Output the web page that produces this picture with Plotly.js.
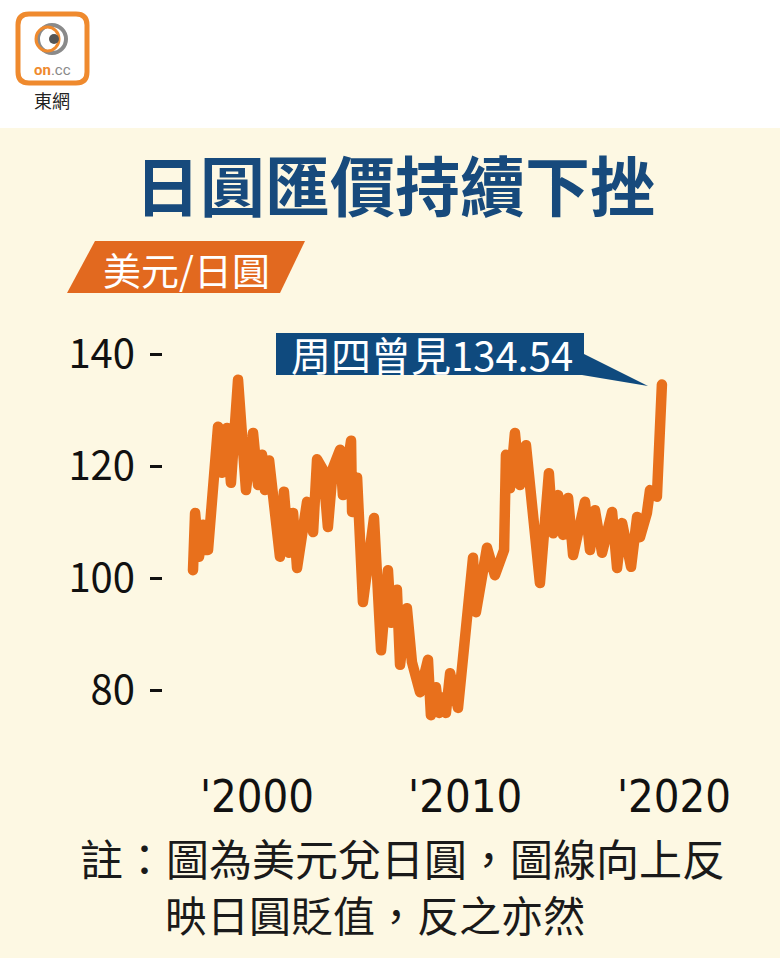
<!DOCTYPE html>
<html>
<head>
<meta charset="utf-8">
<script src="https://cdn.plot.ly/plotly-3.0.1.min.js"></script>
<style>
html,body{margin:0;padding:0;background:#fdf8e3;}
#chart{width:780px;height:958px;}
path.js-line{stroke-linejoin:round !important;stroke-linecap:round !important;}
</style>
</head>
<body>
<div id="chart"></div>
<script>
// ---- data (USD/JPY) ----
const years = [2000.00,2000.10,2000.29,2000.48,2000.58,2000.72,2001.20,2001.39,2001.63,2001.82,
  2002.16,2002.54,2002.88,2003.12,2003.31,2003.45,2003.65,2004.03,2004.17,2004.36,
  2004.60,2004.80,2004.99,2005.47,2005.76,2005.95,2006.24,2006.47,2006.71,2007.05,
  2007.19,2007.58,2007.63,2007.87,2008.15,2008.68,2009.02,2009.35,2009.50,2009.78,
  2009.93,2010.26,2010.50,2010.89,2011.27,2011.41,2011.65,2011.80,2011.99,2012.13,
  2012.33,2012.71,2013.43,2013.57,2014.10,2014.48,2014.92,2015.01,2015.20,2015.44,
  2015.68,2015.97,2016.64,2017.07,2017.27,2017.51,2017.75,2017.99,2018.23,2018.80,
  2019.04,2019.28,2019.62,2020.10,2020.34,2020.58,2021.01,2021.30,2021.44,2021.77,
  2021.92,2022.25,2022.49];
const usdjpy = [101.4,111.6,103.8,109.5,105.0,105.0,127.0,118.8,126.8,117.0,
  135.4,115.7,125.9,116.6,122.0,115.7,121.0,105.0,103.8,115.4,
  104.5,111.6,101.8,113.6,108.2,121.2,119.3,109.1,119.6,122.9,
  114.8,124.5,111.8,117.9,95.7,110.7,87.1,101.4,92.0,97.9,
  84.5,94.6,85.0,79.6,85.4,75.5,80.5,75.9,78.7,75.9,
  83.0,76.8,103.6,93.9,105.4,100.5,105.0,122.0,116.0,125.9,
  116.6,123.7,99.1,118.7,108.0,114.8,107.7,114.3,104.1,113.6,
  105.0,112.1,104.5,111.8,101.8,109.8,102.0,110.9,107.3,111.6,
  115.7,114.5,134.54];
const yTickVals = [80,100,120,140];
const yTickText = ["80","100","120","140"];
const xTickVals = [2003.07,2013.05,2023.07];
const xTickText = ["'2000","'2010","'2020"];
const titleText = "日圓匯價持續下挫";
const unitText = "美元/日圓";
const calloutText = "周四曾見134.54";
const noteLine1 = "註：圖為美元兌日圓，圖線向上反";
const noteLine2 = "映日圓貶值，反之亦然";

// ---- pixel -> paper helpers (plot area: x 163..700, y 330..730) ----
const L = 163, R = 700, T = 330, B = 730;
const P = px => (px - L) / (R - L);
const Q = py => (B - py) / (B - T);
function rectPx(x0, y0, x1, y1) { return {x0: P(x0), x1: P(x1), y0: Q(y1), y1: Q(y0)}; }
function pathPx(str) {
  const toks = str.trim().split(/\s+/);
  let out = [], nums = [];
  toks.forEach(t => {
    if (/^[A-Za-z]$/.test(t)) { out.push(t); }
    else { nums.push(parseFloat(t)); if (nums.length === 2) { out.push(P(nums[0]).toFixed(5) + ',' + Q(nums[1]).toFixed(5)); nums = []; } }
  });
  return out.join(' ');
}

const CJK = '"Noto Sans CJK TC", "Noto Sans CJK SC", sans-serif';
const NAVY = '#174a7c';
const ORANGE = '#e8701c';

const shapes = [
  Object.assign({type:'rect', xref:'paper', yref:'paper', fillcolor:'#ffffff', line:{width:0}, layer:'below'}, rectPx(-5,-5,790,128)),
  {type:'path', xref:'paper', yref:'paper', fillcolor:'#ffffff', line:{color:'#ef8a2e', width:5},
    path: pathPx('M 29 14 L 76 14 Q 87 14 87 25 L 87 72 Q 87 83 76 83 L 29 83 Q 18 83 18 72 L 18 25 Q 18 14 29 14 Z')},
  Object.assign({type:'circle', xref:'paper', yref:'paper', line:{color:'#8a8a8a', width:4}}, rectPx(38,25,66,53)),
  Object.assign({type:'circle', xref:'paper', yref:'paper', line:{color:'#ef8a2e', width:3}}, rectPx(36,27,59,51)),
  Object.assign({type:'circle', xref:'paper', yref:'paper', fillcolor:'#555', line:{width:0}}, rectPx(49,34,59,44)),
  {type:'path', xref:'paper', yref:'paper', fillcolor:'#e2691f', line:{width:0},
    path: pathPx('M 95 241 L 305 241 L 280 293 L 67 293 Z')},
  Object.assign({type:'rect', xref:'paper', yref:'paper', fillcolor:'#0f4a7e', line:{width:0}}, rectPx(276,333,584,375)),
  {type:'path', xref:'paper', yref:'paper', fillcolor:'#0f4a7e', line:{width:0},
    path: pathPx('M 582 353 L 648 386 L 582 375 Z')}
];

function ann(px, py, text, font, xanchor) {
  return {xref:'paper', yref:'paper', x:P(px), y:Q(py), text:text, showarrow:false,
    xanchor:xanchor || 'center', yanchor:'middle', font:font};
}

const annotations = [
  ann(52, 70, "<b><span style='color:#ef8a2e'>on</span></b><span style='color:#888'>.cc</span>", {family:'Roboto, sans-serif', size:15}),
  ann(52, 100, '東網', {family:CJK, size:18, color:'#222'}),
  ann(395, 183, '<b>'+titleText+'</b>', {family:CJK, size:65, color:NAVY}),
  ann(186, 268, unitText, {family:CJK, size:38, color:'#ffffff'}),
  ann(432, 354, calloutText, {family:CJK, size:40, color:'#ffffff'}),
  ann(78, 857, noteLine1, {family:CJK, size:43, color:'#1a1a1a'}, 'left'),
  ann(163, 913, noteLine2, {family:CJK, size:42, color:'#1a1a1a'}, 'left')
];

const trace = {
  x: years, y: usdjpy, type:'scatter', mode:'lines',
  line:{color:ORANGE, width:10.5, shape:'linear'}, hoverinfo:'skip'
};

const layout = {
  width:780, height:958,
  margin:{l:L, r:780-R, t:T, b:958-B, pad:0},
  paper_bgcolor:'#fdf8e3', plot_bgcolor:'rgba(0,0,0,0)',
  showlegend:false,
  xaxis:{range:[1998.561, 2024.317], showgrid:false, zeroline:false, showline:false,
    tickmode:'array', tickvals:xTickVals, ticktext:xTickText, ticks:'',
    ticklabelstandoff:36,
    tickfont:{family:'"Liberation Sans Narrow", "DejaVu Sans Condensed", sans-serif', size:45, color:'#111'}},
  yaxis:{range:[72.857, 144.286], showgrid:false, zeroline:false, showline:false,
    tickmode:'array', tickvals:yTickVals, ticktext:yTickText,
    ticks:'outside', ticklen:12, tickwidth:3, tickcolor:'#111', ticklabelstandoff:7,
    tickfont:{family:CJK, size:40, color:'#111'}},
  shapes:shapes, annotations:annotations
};

Plotly.newPlot('chart', [trace], layout, {staticPlot:true, displayModeBar:false});
</script>
</body>
</html>
